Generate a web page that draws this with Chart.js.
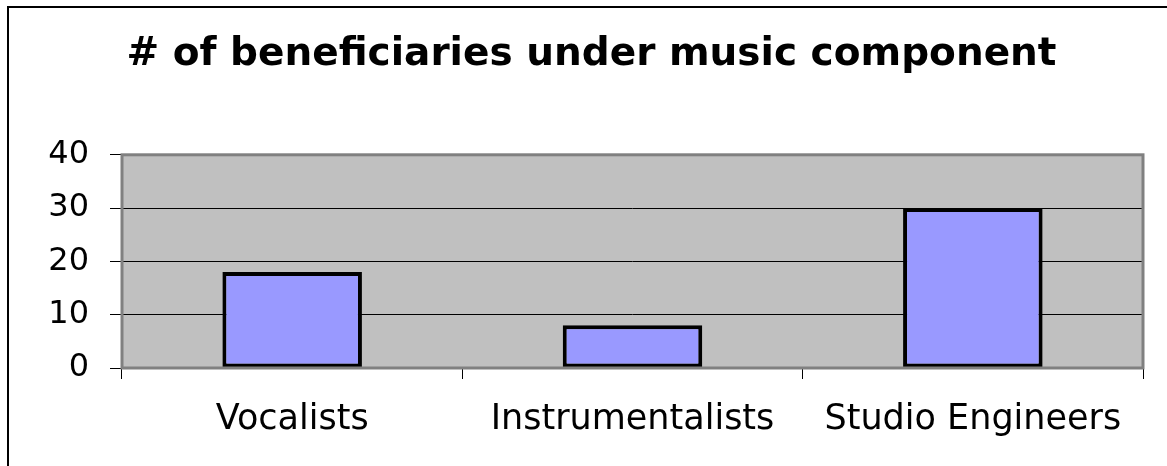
<!DOCTYPE html>
<html>
<head>
<meta charset="utf-8">
<script src="https://cdn.jsdelivr.net/npm/chart.js@4"></script>
<style>
  html, body { margin: 0; padding: 0; background: #fff; overflow: hidden; }
  #wrap { position: relative; width: 1167px; height: 466px; }
  #frame { position: absolute; left: 7px; top: 6px; width: 1200px; height: 500px; border: 2px solid #000; }
  #musicChart { position: absolute; left: 0; top: 0; }
</style>
</head>
<body>
<div id="wrap">
  <div id="frame"></div>
  <canvas id="musicChart" width="1167" height="466"></canvas>
</div>
<script>
const categories = ['Vocalists', 'Instrumentalists', 'Studio Engineers'];
const beneficiaries = [18, 8, 30];
const yTicks = [0, 10, 20, 30, 40];

// grey plot area with a darker border, like the old office charts
const plotArea = {
    id: 'plotArea',
    beforeDraw(chart) {
        const { ctx, chartArea: a } = chart;
        ctx.save();
        ctx.fillStyle = '#c0c0c0';
        ctx.fillRect(a.left, a.top, a.right - a.left, a.bottom - a.top);
        ctx.restore();
    },
    afterDatasetsDraw(chart) {
        const { ctx, chartArea: a } = chart;
        ctx.save();
        ctx.strokeStyle = '#808080';
        ctx.lineWidth = 3;
        ctx.strokeRect(a.left, a.top, a.right - a.left, a.bottom - a.top);
        ctx.restore();
    }
};

const ctx = document.getElementById('musicChart').getContext('2d');

new Chart(ctx, {
    type: 'bar',
    data: {
        labels: categories,
        datasets: [{
            label: '# of beneficiaries',
            data: beneficiaries,
            backgroundColor: '#9999ff',
            borderColor: '#000',
            borderWidth: 4,
            borderSkipped: false,
            barPercentage: 0.41,
            categoryPercentage: 1
        }]
    },
    options: {
        responsive: false,
        animation: false,
        layout: { padding: { left: 40, right: 24, top: 0, bottom: 0 } },
        plugins: {
            legend: { display: false },
            tooltip: { enabled: false },
            title: {
                display: true,
                text: '# of beneficiaries under music component',
                color: '#000',
                font: { family: 'DejaVu Sans', size: 39, weight: 'bold', lineHeight: 1.2 },
                padding: { top: 31, bottom: 77 }
            }
        },
        scales: {
            x: {
                grid: {
                    offset: true,
                    drawOnChartArea: false,
                    drawTicks: true,
                    tickLength: 11,
                    color: '#000'
                },
                border: { display: false },
                ticks: {
                    color: '#000',
                    padding: 20,
                    maxRotation: 0,
                    font: { family: 'DejaVu Sans', size: 35 }
                },
                afterFit(scale) { scale.height = 98; }
            },
            y: {
                min: yTicks[0],
                max: yTicks[yTicks.length - 1],
                afterBuildTicks(scale) { scale.ticks = yTicks.map(v => ({ value: v })); },
                grid: { color: '#000', lineWidth: 1, tickLength: 12 },
                border: { display: false },
                ticks: {
                    color: '#000',
                    padding: 21,
                    font: { family: 'DejaVu Sans', size: 32 }
                },
                afterFit(scale) { scale.width = 82; }
            }
        }
    },
    plugins: [plotArea]
});
</script>
</body>
</html>
